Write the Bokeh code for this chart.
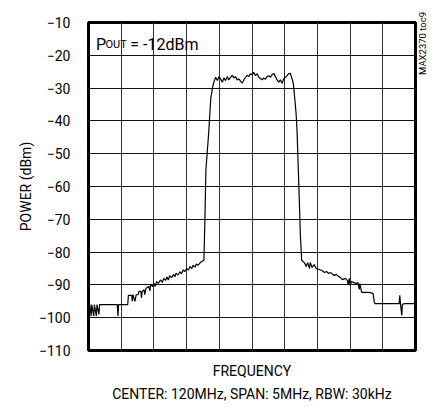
import math
from bokeh.plotting import figure
from bokeh.models import Range1d, FixedTicker, Label, Title, LinearAxis
from bokeh.embed import file_html
from bokeh.resources import INLINE

FONT = "Roboto"

# frequency offset from 120 MHz centre (MHz) and power (dBm)
freq_offset = [
    -2.50, -2.49, -2.48, -2.46, -2.45, -2.42, -2.41, -2.38, -2.37, -2.34, -2.33,
    -2.06, -2.05, -2.04, -1.90, -1.89, -1.84, -1.83, -1.82, -1.79, -1.77, -1.74,
    -1.73, -1.70, -1.69, -1.68, -1.65, -1.64, -1.62, -1.58, -1.56, -1.55, -1.52,
    -1.50, -1.48, -1.46, -1.43, -1.40, -1.37, -1.35, -1.32, -1.30, -1.28, -1.26,
    -1.23, -1.20, -1.18, -1.16, -1.13, -1.10, -1.08, -1.05, -1.03, -1.00, -0.97,
    -0.95, -0.92, -0.90, -0.87, -0.85, -0.82, -0.80, -0.78, -0.76,
    -0.735, -0.72, -0.705, -0.66, -0.63, -0.60, -0.58,
    -0.556, -0.530, -0.506, -0.480, -0.454, -0.430, -0.404, -0.378, -0.354,
    -0.328, -0.302, -0.277, -0.252, -0.226, -0.201, -0.175, -0.149, -0.125,
    -0.099, -0.073, -0.049, -0.023, 0.003, 0.027, 0.053, 0.079, 0.104, 0.130,
    0.155, 0.180, 0.206, 0.232, 0.256, 0.282, 0.308, 0.332, 0.358, 0.384,
    0.409, 0.434, 0.460, 0.485, 0.511, 0.537, 0.561, 0.587, 0.613, 0.633,
    0.652, 0.674, 0.689, 0.70, 0.72, 0.74, 0.76,
    0.80, 0.83, 0.85, 0.88, 0.89, 0.92, 0.95, 0.98, 1.03, 1.07, 1.11, 1.14,
    1.17, 1.20, 1.23, 1.26, 1.29, 1.32, 1.35, 1.38, 1.43, 1.46, 1.47, 1.49,
    1.50, 1.52, 1.56, 1.59, 1.62, 1.64, 1.65, 1.67, 1.68, 1.79, 1.85, 1.87,
    1.88, 2.25, 2.26, 2.27, 2.29, 2.30, 2.34, 2.50,
]
power_dbm = [
    -96.0, -99.5, -96.0, -99.5, -96.0, -99.5, -96.0, -99.5, -96.0, -99.0, -96.0,
    -96.0, -99.5, -96.0, -96.0, -93.2, -93.2, -95.0, -93.0, -95.0, -93.0, -93.0,
    -92.0, -92.0, -94.0, -92.0, -91.5, -93.0, -91.0, -90.5, -91.8, -89.8, -90.5,
    -89.5, -90.5, -89.0, -89.5, -88.5, -89.2, -88.0, -88.6, -87.6, -88.5, -87.2,
    -87.8, -86.8, -87.5, -86.4, -87.0, -86.0, -86.6, -85.4, -86.0, -85.0, -85.5,
    -84.4, -85.0, -84.0, -84.6, -83.6, -84.0, -83.4, -83.0, -82.8,
    -82.5, -70.0, -55.0, -43.0, -33.0, -29.5, -28.0,
    -26.7, -27.7, -26.5, -27.2, -28.2, -26.9, -27.7, -26.5, -27.5,
    -26.7, -26.1, -26.9, -26.5, -27.5, -27.2, -27.9, -28.5, -27.5,
    -26.7, -26.1, -26.5, -25.6, -25.9, -25.2, -26.2, -25.6, -26.7, -27.1,
    -27.5, -26.9, -27.3, -26.5, -26.2, -26.7, -25.9, -25.5, -26.5, -27.5,
    -28.2, -27.5, -28.5, -27.2, -26.7, -26.2, -25.6, -25.5, -27.2, -28.7,
    -32.8, -37.7, -43.0, -50.0, -62.0, -75.0, -82.5,
    -83.2, -84.4, -83.2, -85.0, -83.2, -84.7, -83.8, -85.0, -85.3, -85.6, -86.2, -85.9,
    -86.5, -86.2, -86.8, -87.1, -86.8, -87.4, -87.7, -88.4, -88.0, -88.7, -89.9, -88.0,
    -90.2, -89.0, -89.3, -89.6, -89.3, -91.4, -89.6, -91.7, -92.3, -92.3, -92.6, -95.1,
    -95.7, -95.7, -93.2, -95.7, -99.3, -95.9, -95.7, -95.7,
]

x_grid = [-2.5, -2.0, -1.5, -1.0, -0.5, 0.0, 0.5, 1.0, 1.5, 2.0, 2.5]
y_ticks = [-110, -100, -90, -80, -70, -60, -50, -40, -30, -20, -10]
note_text = "MAX2370 toc9"
note_at = -19.0

p = figure(width=436, height=404, output_backend="svg", toolbar_location=None,
           x_range=Range1d(-2.5, 2.5), y_range=Range1d(-110, -10),
           min_border_left=88, min_border_right=20, min_border_top=22,
           min_border_bottom=54)

p.outline_line_color = "black"
p.outline_line_width = 3
p.outline_line_alpha = 1.0

p.xaxis.ticker = FixedTicker(ticks=[])
p.yaxis.ticker = FixedTicker(ticks=y_ticks)
p.xgrid.ticker = FixedTicker(ticks=x_grid)
p.ygrid.ticker = FixedTicker(ticks=y_ticks)
p.xgrid.grid_line_color = "#333333"
p.ygrid.grid_line_color = "#111111"
p.xgrid.grid_line_width = 1
p.ygrid.grid_line_width = 1

# small vertical note on the right, drawn as the only label of a bare right axis
note_axis = LinearAxis(ticker=FixedTicker(ticks=[note_at]),
                       major_label_overrides={note_at: note_text})
p.add_layout(note_axis, "right")

for ax in (p.xaxis[0], p.yaxis[0], note_axis):
    ax.axis_line_color = None
    ax.major_tick_line_color = None
    ax.minor_tick_line_color = None
    ax.major_tick_out = 0
    ax.major_tick_in = 0
    ax.minor_tick_out = 0
    ax.axis_label_text_font = FONT
    ax.axis_label_text_font_style = "normal"
    ax.axis_label_text_font_size = "14px"
    ax.axis_label_text_color = "black"
    ax.major_label_text_font = FONT
    ax.major_label_text_font_size = "14px"
    ax.major_label_text_color = "black"

note_axis.major_label_text_font_size = "9.5px"
note_axis.major_label_standoff = 7
note_axis.major_label_orientation = math.pi / 2

p.yaxis[0].axis_label = "POWER (dBm)"
p.yaxis[0].major_label_standoff = 18
p.yaxis[0].axis_label_standoff = 2

p.xaxis[0].axis_label = "FREQUENCY"
p.xaxis[0].major_label_standoff = 0
p.xaxis[0].axis_label_standoff = 12

p.line(freq_offset, power_dbm, line_color="black", line_width=1.2)

sub = Title(text="CENTER: 120MHz, SPAN: 5MHz, RBW: 30kHz", align="center",
            text_font=FONT, text_font_size="14px", text_font_style="normal",
            text_color="black", standoff=4)
p.add_layout(sub, "below")

common = dict(text_font=FONT, text_color="black", text_baseline="alphabetic")
p.add_layout(Label(x=-2.386, y=-16.6, text="P", text_font_size="16px", **common))
p.add_layout(Label(x=-2.24, y=-16.6, text="OUT", text_font_size="11px", **common))
p.add_layout(Label(x=-1.86, y=-16.6, text="= -12dBm", text_font_size="16px", **common))

open("out.html", "w").write(file_html(p, INLINE))
